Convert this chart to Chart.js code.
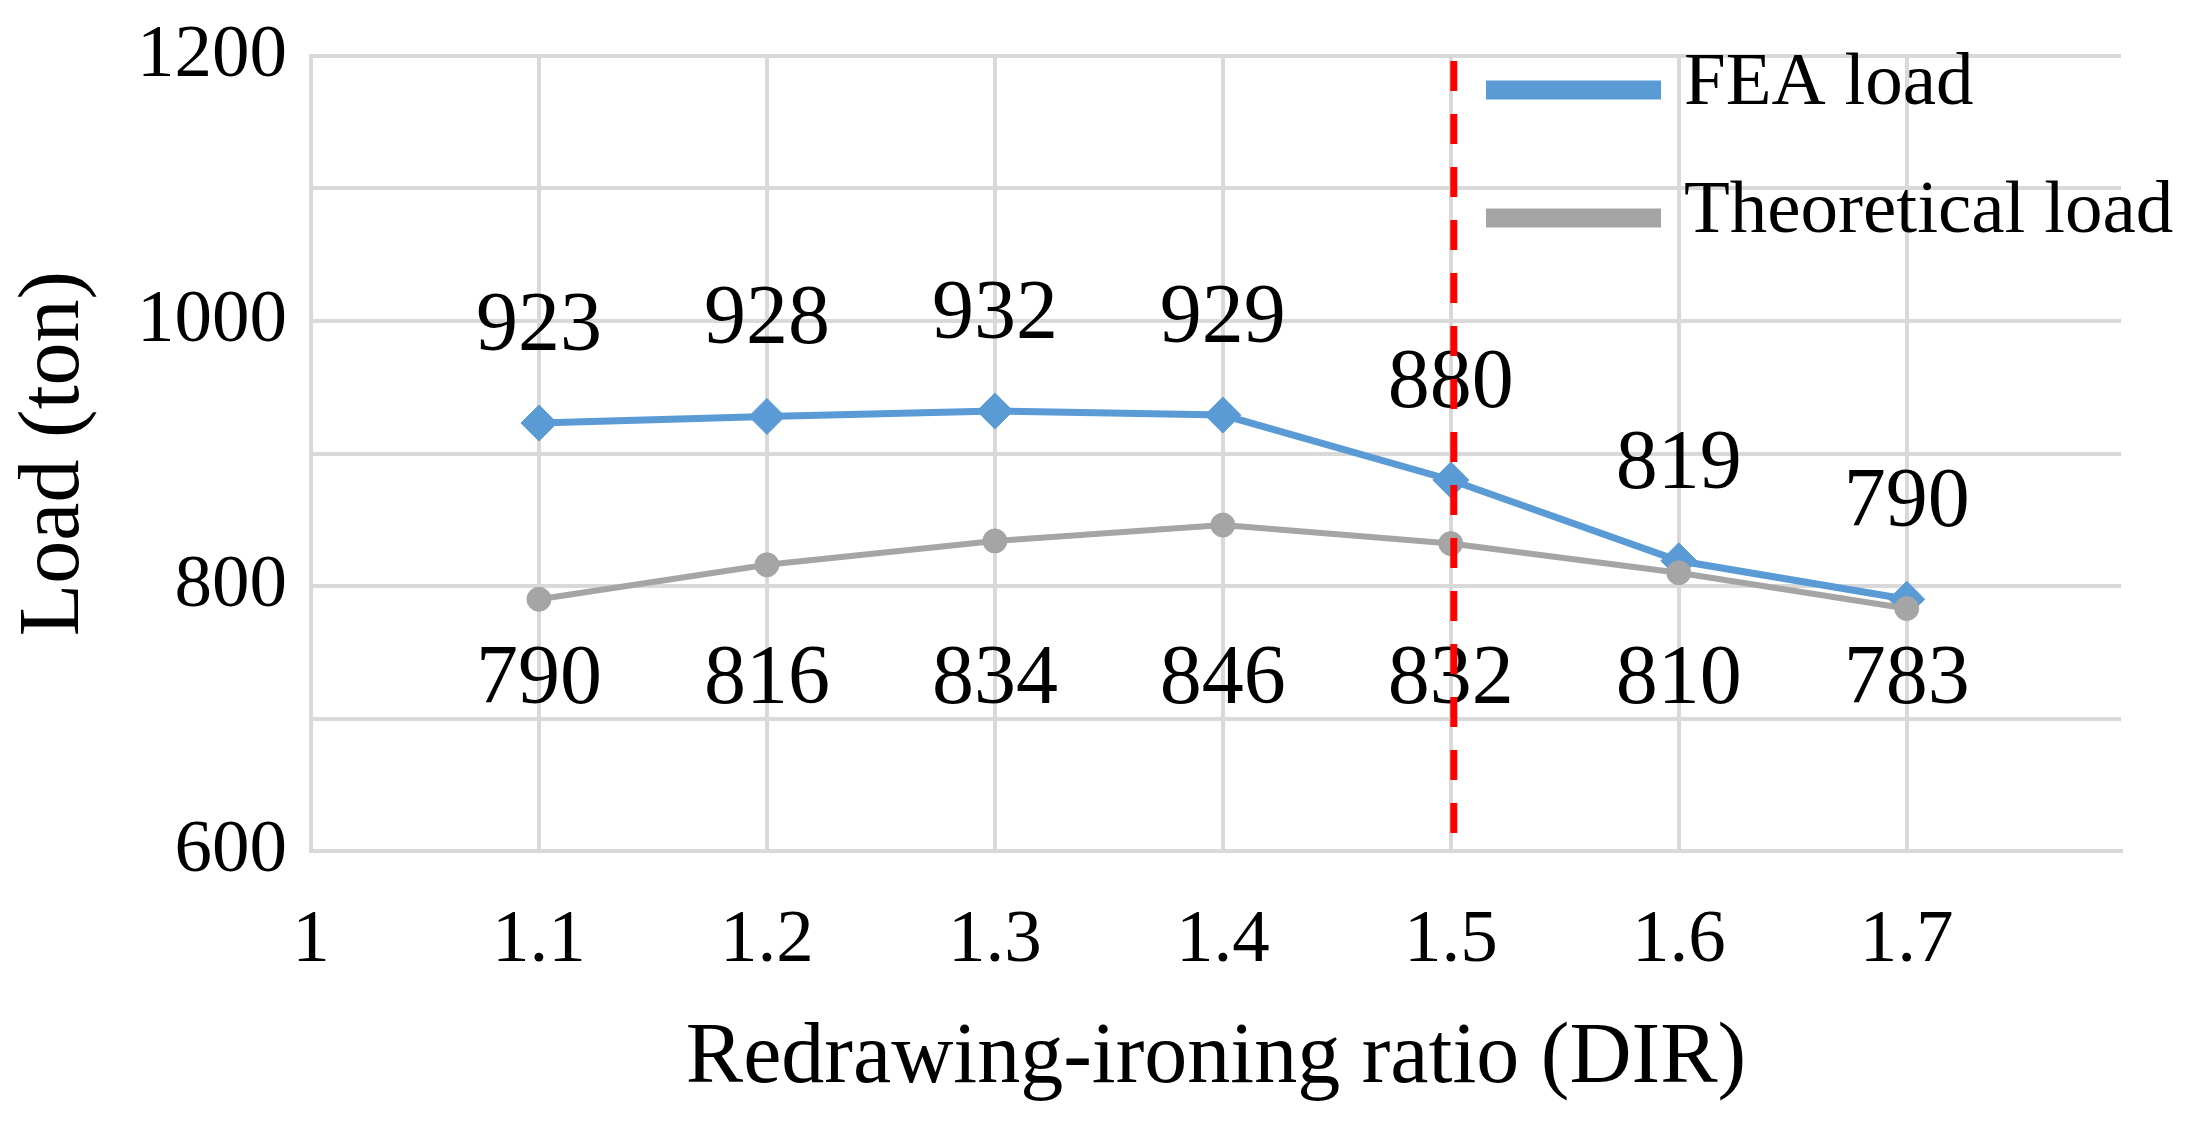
<!DOCTYPE html>
<html>
<head>
<meta charset="utf-8">
<script src="https://cdn.jsdelivr.net/npm/chart.js@4.4.1/dist/chart.umd.min.js"></script>
<style>
  html, body { margin: 0; padding: 0; background: #fff; }
  #wrap { width: 2194px; height: 1121px; }
</style>
</head>
<body>
<div id="wrap"><canvas id="loadChart" width="2194" height="1121"></canvas></div>
<script>
// values
const ratios = [1.1, 1.2, 1.3, 1.4, 1.5, 1.6, 1.7];
const feaLoad = [923, 928, 932, 929, 880, 819, 790];
const theoreticalLoad = [790, 816, 834, 846, 832, 810, 783];
const yLabelled = [600, 800, 1000, 1200];
const xLabelled = [1, 1.1, 1.2, 1.3, 1.4, 1.5, 1.6, 1.7];
const limitRatio = 1.5;

const SERIF = '"Liberation Serif", "Times New Roman", serif';
const BLUE = '#5B9BD5';
const GRAY = '#A5A5A5';
const GRID = '#D9D9D9';

const toPoints = (ys) => ys.map((y, i) => ({ x: ratios[i], y: y }));

// keep the plot box where the figure has it, ignore label overhang
function noOverhang(scale) {
  scale.paddingTop = 0;
  scale.paddingBottom = 0;
  scale.paddingLeft = 0;
  scale.paddingRight = 0;
}

// data labels, red limit line and the legend inside the plot
const overlay = {
  id: 'overlay',
  afterDatasetsDraw(chart) {
    const ctx = chart.ctx;
    const xs = chart.scales.x, ys = chart.scales.y;
    const area = chart.chartArea;
    ctx.save();
    ctx.fillStyle = '#000';
    ctx.font = '84px ' + SERIF;
    ctx.textAlign = 'center';
    ctx.textBaseline = 'middle';
    chart.getDatasetMeta(0).data.forEach((pt, i) => {
      ctx.fillText(String(feaLoad[i]), pt.x, pt.y - 95);
    });
    const rowY = ys.getPixelForValue(728);
    chart.getDatasetMeta(1).data.forEach((pt, i) => {
      ctx.fillText(String(theoreticalLoad[i]), pt.x, rowY);
    });

    const lx = xs.getPixelForValue(limitRatio) + 3;
    ctx.strokeStyle = '#FF0000';
    ctx.lineWidth = 7;
    ctx.setLineDash([30, 23]);
    ctx.beginPath();
    ctx.moveTo(lx, area.top + 5);
    ctx.lineTo(lx, area.bottom - 10);
    ctx.stroke();
    ctx.restore();
  },
  afterDraw(chart) {
    const ctx = chart.ctx;
    ctx.save();
    ctx.font = '75px ' + SERIF;
    ctx.textAlign = 'left';
    ctx.textBaseline = 'middle';
    chart.data.datasets.forEach((ds, i) => {
      const y = 84 + i * 128;
      ctx.strokeStyle = ds.borderColor;
      ctx.lineWidth = 19;
      ctx.beginPath();
      ctx.moveTo(1486, y + 6);
      ctx.lineTo(1661, y + 6);
      ctx.stroke();
      ctx.fillStyle = '#000';
      ctx.fillText(ds.label, 1684, y);
    });
    ctx.restore();
  }
};

new Chart(document.getElementById('loadChart').getContext('2d'), {
  type: 'line',
  data: {
    datasets: [{
      label: 'FEA load',
      data: toPoints(feaLoad),
      borderColor: BLUE,
      backgroundColor: BLUE,
      borderWidth: 7,
      pointStyle: 'rectRot',
      pointRadius: 18,
      pointBackgroundColor: BLUE,
      pointBorderWidth: 1,
      tension: 0,
      order: 1
    }, {
      label: 'Theoretical load',
      data: toPoints(theoreticalLoad),
      borderColor: GRAY,
      backgroundColor: GRAY,
      borderWidth: 6,
      pointStyle: 'circle',
      pointRadius: 12,
      pointBackgroundColor: GRAY,
      pointBorderWidth: 1,
      tension: 0,
      order: 0
    }]
  },
  options: {
    responsive: false,
    animation: false,
    devicePixelRatio: 1,
    layout: { padding: { top: 56, right: 73, left: 0, bottom: 0 } },
    plugins: {
      legend: { display: false },
      tooltip: { enabled: false }
    },
    scales: {
      x: {
        type: 'linear',
        min: 1,
        max: 1.794,
        afterFit(scale) { scale.height = 270; noOverhang(scale); },
        ticks: {
          stepSize: 0.1,
          includeBounds: false,
          padding: 45,
          color: '#000',
          font: { family: SERIF, size: 75 },
          callback: (v) => {
            const r = Math.round(v * 10) / 10;
            return xLabelled.includes(r) ? String(r) : '';
          }
        },
        grid: { drawTicks: false, lineWidth: 4, color: GRID },
        border: { color: GRID, width: 4 },
        title: {
          display: true,
          text: 'Redrawing-ironing ratio (DIR)',
          color: '#000',
          font: { family: SERIF, size: 86 },
          padding: { top: 0, bottom: 10 }
        }
      },
      y: {
        min: 600,
        max: 1200,
        afterFit(scale) { scale.width = 311; noOverhang(scale); },
        ticks: {
          stepSize: 100,
          padding: 24,
          color: '#000',
          font: { family: SERIF, size: 75 },
          callback: (v) => (yLabelled.includes(v) ? String(v) : '')
        },
        grid: { drawTicks: false, lineWidth: 4, color: GRID },
        border: { color: GRID, width: 4 },
        title: {
          display: true,
          text: 'Load (ton)',
          color: '#000',
          font: { family: SERIF, size: 86 },
          padding: { top: 4, bottom: 0 }
        }
      }
    }
  },
  plugins: [overlay]
});
</script>
</body>
</html>
